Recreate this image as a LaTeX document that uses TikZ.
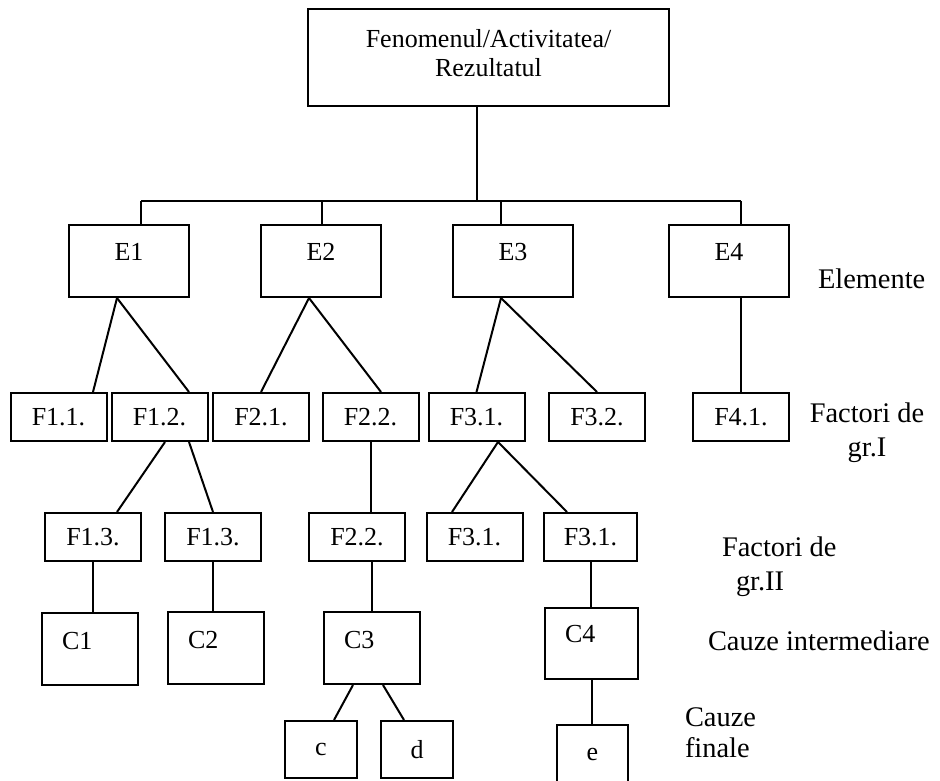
\documentclass[tikz,border=0pt]{standalone}
\usepackage{fontspec}
\setmainfont{Liberation Serif}
\usepackage{tikz}

\begin{document}
\begin{tikzpicture}[x=0.5pt, y=-0.5pt, line width=1pt,
    box/.style={draw, inner sep=0pt, font=\fontsize{13}{14.5}\selectfont},
    ebox/.style={box, minimum width=60pt, text height=18pt, text depth=18pt},
    fbox/.style={box, minimum width=48pt, minimum height=24pt},
    cbox/.style={box, anchor=north west, inner xsep=10pt, text width=28pt, align=left, text height=18pt, text depth=18pt},
    endbox/.style={box, minimum width=36pt, minimum height=28.5pt},
    side/.style={inner sep=0pt, font=\fontsize{14.2}{17}\selectfont}]
    \useasboundingbox (0,0) rectangle (940,780);

    % top
    \node[box, minimum width=180.5pt, minimum height=48.5pt, align=center] (fen) at (488.5,57.5)
        {Fenomenul/Activitatea/\\Rezultatul\rule[-5pt]{0pt}{5pt}};

    % elemente
    \node[ebox] (e1) at (129,261) {E1};
    \node[ebox] (e2) at (321,261) {E2};
    \node[ebox] (e3) at (513,261) {E3};
    \node[ebox] (e4) at (729,261) {E4};

    % factori de gr.I
    \node[fbox] (f11) at (58.5,417)  {F1.1.};
    \node[fbox] (f12) at (159.5,417) {F1.2.};
    \node[fbox] (f21) at (261,417)   {F2.1.};
    \node[fbox] (f22) at (370.5,417) {F2.2.};
    \node[fbox] (f31) at (476.5,417) {F3.1.};
    \node[fbox] (f32) at (597,417)   {F3.2.};
    \node[fbox] (f41) at (741,417)   {F4.1.};

    % factori de gr.II
    \node[fbox] (f13a) at (93,537)    {F1.3.};
    \node[fbox] (f13b) at (213,537)   {F1.3.};
    \node[fbox] (f22b) at (357,537)   {F2.2.};
    \node[fbox] (f31a) at (474.5,537) {F3.1.};
    \node[fbox, minimum width=46.5pt] (f31b) at (590.5,537) {F3.1.};

    % cauze
    \node[cbox] (c1) at (41,612)  {C1};
    \node[cbox] (c2) at (167,611) {C2};
    \node[cbox] (c3) at (323,611) {C3};
    \node[cbox, text width=26.5pt, text height=17pt, text depth=18.5pt] (c4) at (544,607) {C4};

    \node[endbox] (cc) at (321,749.5) {c};
    \node[endbox] (cd) at (417,749.5) {d};
    \node[box, anchor=north, minimum width=35.5pt, text height=17.5pt, text depth=15.5pt] (ce) at (592.5,724) {e};

    % legenda
    \node[side, anchor=base west] (elem) at (817,288) {Elemente};
    \node[side, align=center] (fact1) at (867,433) {Factori de\\gr.I};
    \node[side, align=left, anchor=west] (fact2) at (721,567) {Factori de\\\hspace*{7pt}gr.II};
    \node[side, anchor=base west] (cint) at (707,650) {Cauze intermediare};
    \node[side, align=left, anchor=west, font=\fontsize{14.2}{15.5}\selectfont] (cfin) at (684,733) {Cauze\\finale};

    % legaturi
    \coordinate (trunk) at (477,201);
    \coordinate (b1) at (141,201);
    \coordinate (b2) at (322,201);
    \coordinate (b3) at (501,201);
    \coordinate (b4) at (741,201);
    \draw (fen.south -| trunk) -- (trunk);
    \draw (b1) -- (b4);
    \draw (b1) -- (b1 |- e1.north);
    \draw (b2) -- (b2 |- e2.north);
    \draw (b3) -- (b3 |- e3.north);
    \draw (b4) -- (b4 |- e4.north);

    \draw ([xshift=-6pt]e1.south) -- ([xshift=17.25pt]f11.north);
    \draw ([xshift=-6pt]e1.south) -- ([xshift=14.75pt]f12.north);
    \draw ([xshift=-6pt]e2.south) -- (f21.north);
    \draw ([xshift=-6pt]e2.south) -- ([xshift=5.25pt]f22.north);
    \draw ([xshift=-6pt]e3.south) -- (f31.north);
    \draw ([xshift=-6pt]e3.south) -- (f32.north);
    \draw (f41.north |- e4.south) -- (f41.north);

    \draw ([xshift=2.75pt]f12.south) -- ([xshift=12pt]f13a.north);
    \draw ([xshift=14.75pt]f12.south) -- (f13b.north);
    \draw (f22.south) -- (f22.south |- f22b.north);
    \draw ([xshift=10.75pt]f31.south) -- ([xshift=-11.25pt]f31a.north);
    \draw ([xshift=10.75pt]f31.south) -- ([xshift=-11.75pt]f31b.north);

    \draw (f13a.south) -- (f13a.south |- c1.north);
    \draw (f13b.south) -- (f13b.south |- c2.north);
    \draw (c3.north |- f22b.south) -- (c3.north);
    \draw (f31b.south) -- (f31b.south |- c4.north);

    \draw ([xshift=-9.5pt]c3.south) -- ([xshift=6.5pt]cc.north);
    \draw ([xshift=5.5pt]c3.south) -- ([xshift=-6.5pt]cd.north);
    \draw (c4.south) -- (c4.south |- ce.north);
\end{tikzpicture}
\end{document}
